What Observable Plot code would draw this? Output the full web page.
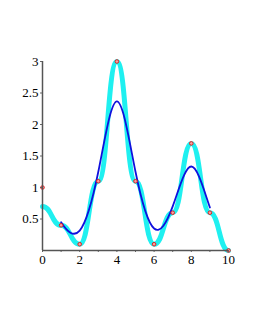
<!DOCTYPE html>
<html><head><meta charset="utf-8">
<script src="https://cdn.jsdelivr.net/npm/d3@7"></script>
<script src="https://cdn.jsdelivr.net/npm/@observablehq/plot@0.6"></script>
<style>body{margin:0;background:#fff}</style>
</head><body><div id="chart"></div>
<script>
const xs = [0,1,2,3,4,5,6,7,8,9,10];
const ys = [1,0.4,0.1,1.1,3,1.1,0.1,0.6,1.7,0.6,0];
const cyanYs = [0.7,0.4,0.1,1.1,3,1.1,0.1,0.6,1.7,0.6,0];
const xTicks = [0,1,2,3,4,5,6,7,8,9,10];
const yTicks = [0.5,1,1.5,2,2.5,3];

const pts = xs.map((x,i)=>({x, y: ys[i]}));
const cyan = xs.map((x,i)=>({x, y: cyanYs[i]}));

const chart = Plot.plot({
  width: 255, height: 330,
  marginLeft: 42, marginRight: 27, marginTop: 61, marginBottom: 80,
  style: {fontFamily: "Liberation Serif", fontSize: "13px", color: "#000", background: "#fff"},
  x: {domain: [0,10]},
  y: {domain: [0,3]},
  marks: [
    Plot.line(cyan, {x:"x", y:"y", curve:"bump-x", stroke:"#1ff0f0", strokeWidth:5}),
    Plot.line(pts, {x:"x", y:"y", curve:"basis-open", stroke:"#1010dd", strokeWidth:1.8}),
    Plot.dot(pts, {x:"x", y:"y", r:1.8, stroke:"#e02020", fill:"#f7a0a0", strokeWidth:1}),
    Plot.axisX({ticks: xTicks, tickFormat: d => d % 2 ? "" : String(d), tickSize: 2, tickPadding: 2, stroke:"#666", label:null}),
    Plot.axisY({ticks: yTicks, tickFormat: d => String(d), tickSize: 2, tickPadding: 2, stroke:"#666", label:null}),
    Plot.ruleY([0], {stroke:"#555", strokeWidth:1.5}),
    Plot.ruleX([0], {stroke:"#555", strokeWidth:1.5})
  ]
});
document.getElementById("chart").appendChild(chart);
</script></body></html>
